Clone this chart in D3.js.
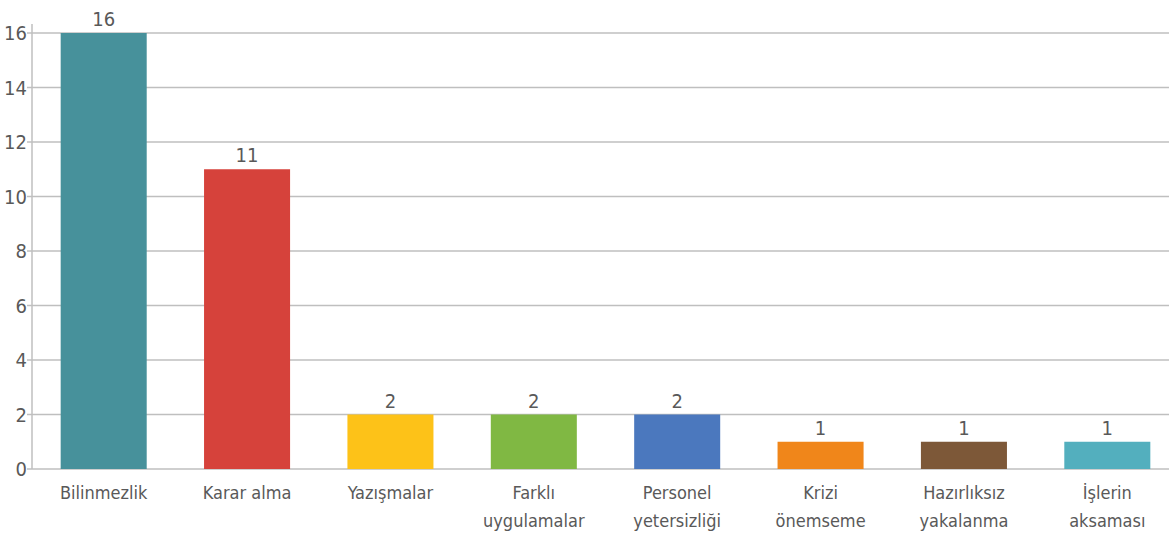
<!DOCTYPE html>
<html><head><meta charset="utf-8">
<script src="https://cdn.jsdelivr.net/npm/d3@7"></script>
<style>body{margin:0;background:#fff;overflow:hidden}svg{display:block}text{font-family:"DejaVu Sans Condensed","Liberation Sans Narrow","Liberation Sans",sans-serif;fill:#595959}</style>
</head><body><svg id="c" width="1169" height="536"></svg>
<script>
const categories = [["Bilinmezlik"],["Karar alma"],["Yazışmalar"],["Farklı","uygulamalar"],["Personel","yetersizliği"],["Krizi","önemseme"],["Hazırlıksız","yakalanma"],["İşlerin","aksaması"]];
const values = [16,11,2,2,2,1,1,1];
const colors = ["#47919B","#D6423B","#FDC218","#80B843","#4B78BE","#F0861A","#7D5838","#53AFBE"];
const yTicks = [0,2,4,6,8,10,12,14,16];

const svg = d3.select("#c");
const m = {l:32, t:33, b:67};
const W = 1169, H = 536;
const x = d3.scaleBand().domain(d3.range(values.length)).range([m.l, 1179]).paddingInner(0.4).paddingOuter(0.2);
const y = d3.scaleLinear().domain([0,16]).range([H-m.b, m.t]);

svg.append("g").selectAll("line").data(yTicks).join("line")
  .attr("x1", m.l-5).attr("x2", W).attr("y1", d=>y(d)).attr("y2", d=>y(d))
  .attr("stroke","#bfbfbf").attr("stroke-width",1.5);
svg.append("line").attr("x1",m.l).attr("x2",m.l).attr("y1",y(16)-9).attr("y2",y(0))
  .attr("stroke","#bfbfbf").attr("stroke-width",1.5);
svg.append("g").selectAll("text").data(yTicks).join("text")
  .attr("x", m.l-5).attr("y", d=>y(d)).attr("dy","0.36em").attr("text-anchor","end")
  .attr("font-size",20).text(d=>d);
svg.append("g").selectAll("rect").data(values).join("rect")
  .attr("x",(d,i)=>x(i)).attr("width",x.bandwidth())
  .attr("y",d=>y(d)).attr("height",d=>y(0)-y(d))
  .attr("fill",(d,i)=>colors[i]);
svg.append("g").selectAll("text").data(values).join("text")
  .attr("x",(d,i)=>x(i)+x.bandwidth()/2).attr("y",d=>y(d)-7)
  .attr("text-anchor","middle").attr("font-size",20).text(d=>d);
const cl = svg.append("g").selectAll("text").data(categories).join("text")
  .attr("x",(d,i)=>x(i)+x.bandwidth()/2).attr("y",y(0)+30)
  .attr("text-anchor","middle").attr("font-size",18);
cl.selectAll("tspan").data(d=>d).join("tspan")
  .attr("x",function(){return this.parentNode.getAttribute("x");})
  .attr("dy",(d,j)=>j?28:0).text(d=>d);
</script></body></html>
